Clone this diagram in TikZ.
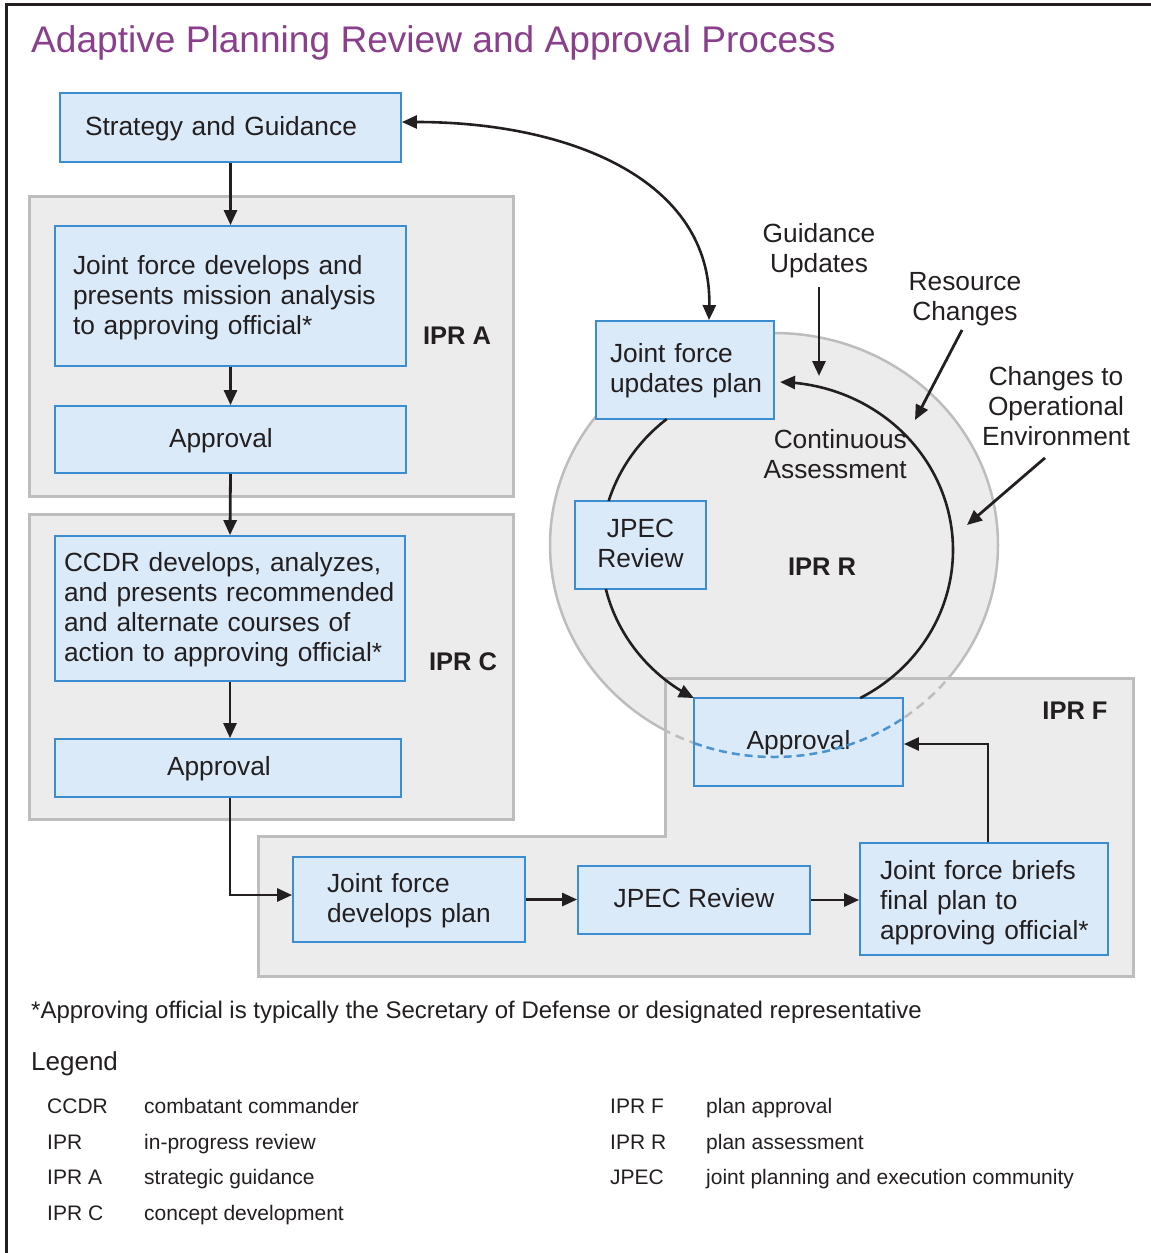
\documentclass[tikz,border=0pt]{standalone}
\usepackage{fontspec}
\setmainfont{Liberation Sans}
\usetikzlibrary{arrows.meta}
\definecolor{boxfill}{HTML}{DBEAF8}
\definecolor{boxline}{HTML}{3A8DD0}
\definecolor{grpfill}{HTML}{ECECEC}
\definecolor{grpline}{HTML}{BDBDBD}
\definecolor{ink}{HTML}{231F20}
\definecolor{titlecol}{HTML}{8A3F8C}
\definecolor{dashblue}{HTML}{4A94CF}
\newcommand\mytop{\rule{0pt}{21pt}}
\newcommand\mybot{\rule[-5.5pt]{0pt}{5.5pt}}
\begin{document}
\begin{tikzpicture}[x=1pt,y=-1pt,
  box/.style={draw=boxline, fill=boxfill, line width=1.8pt, inner sep=0pt, text=ink, font=\fontsize{26.3}{30}\selectfont},
  lbox/.style={box, align=left},
  cbox/.style={box, align=center},
  grp/.style={draw=grpline, fill=grpfill, line width=3pt},
  arr/.style={draw=ink, line width=2.8pt, -{Triangle[length=15pt,width=13pt]}},
  lbl/.style={text=ink, font=\fontsize{26.3}{30}\selectfont, inner sep=0pt},
  iprlbl/.style={text=ink, font=\fontsize{25.5}{30}\selectfont\bfseries, inner sep=0pt},
  leg/.style={text=ink, font=\fontsize{21}{25}\selectfont, inner sep=0pt, anchor=base west},
]
\useasboundingbox (0,0) rectangle (1151,1253);
% frame
\draw[ink, line width=3pt] (6,1253) -- (6,4.5) -- (1151,4.5);
% title
\node[anchor=base west, inner sep=0pt, text=titlecol, font=\fontsize{37.1}{44}\selectfont] (title) at (31,52) {Adaptive Planning Review and Approval Process};

% big assessment circle
\draw[grp, line width=2.5pt] (774,545) ellipse [x radius=224, y radius=212];
% groups
\draw[grp] (29,196) rectangle (513,496);
\draw[grp] (29,514) rectangle (513,819);
\draw[grp] (258,836) -- (665,836) -- (665,678) -- (1133,678) -- (1133,976) -- (258,976) -- cycle;
\begin{scope}
  \clip (258,836) -- (665,836) -- (665,678) -- (1133,678) -- (1133,976) -- (258,976) -- cycle;
  \draw[grpline, line width=2.5pt, dash pattern=on 9pt off 6pt] (774,545) ellipse [x radius=224, y radius=212];
\end{scope}

% boxes
\node[lbox, minimum width=341pt, minimum height=69pt, inner xsep=25pt, text width=291pt] (sg) at (230.5,127.5) {\mytop\mbox{Strategy and Guidance}\mybot};
\node[lbox, minimum width=351pt, minimum height=140pt, inner xsep=18pt, text width=315pt] (jfma) at (230.5,296) {\rule{0pt}{23pt}\mbox{Joint force develops and}\\\mbox{presents mission analysis}\\\mbox{to approving official*}\mybot};
\node[lbox, minimum width=351pt, minimum height=67pt, inner xsep=114pt, text width=123pt] (apa) at (230.5,439.5) {\mytop\mbox{Approval}\mybot};
\node[lbox, minimum width=350pt, minimum height=145pt, inner xsep=9pt, text width=332pt] (cc) at (230,608.5) {\mytop\mbox{CCDR develops, analyzes,}\\\mbox{and presents recommended}\\\mbox{and alternate courses of}\\\mbox{action to approving official*}\mybot};
\node[lbox, minimum width=346pt, minimum height=58pt, inner xsep=112pt, text width=122pt] (apc) at (228,768) {\mytop\mbox{Approval}\mybot};
\node[lbox, minimum width=232pt, minimum height=85pt, inner xsep=34pt, text width=164pt] (jfdp) at (409,899.5) {\mytop\mbox{Joint force}\\\mbox{develops plan}\mybot};
\node[cbox, minimum width=232pt, minimum height=68pt] (jpec) at (694,900) {\mytop JPEC Review\mybot};
\node[lbox, minimum width=248pt, minimum height=112pt, inner xsep=20pt, text width=208pt] (brief) at (984,899) {\rule{0pt}{26pt}\mbox{Joint force briefs}\\\mbox{final plan to}\\\mbox{approving official*}\mybot};
\node[cbox, minimum width=209pt, minimum height=88pt] (apf) at (798.5,742) {\mytop Approval\mybot};
\node[lbox, minimum width=178pt, minimum height=98pt, inner xsep=14pt, text width=150pt] (jfup) at (685,370) {\mytop\mbox{Joint force}\\\mbox{updates plan}\mybot};
\node[cbox, minimum width=131pt, minimum height=88pt] (jpr) at (640.5,545) {\mytop JPEC\\Review\mybot};

\begin{scope}
  \clip (apf.south west) rectangle (apf.north east);
  \draw[dashblue, line width=2.5pt, dash pattern=on 8pt off 5pt] (774,545) ellipse [x radius=224, y radius=212];
\end{scope}

% group labels
\node[iprlbl] (ipra) at (457,336) {IPR A};
\node[iprlbl] (iprc) at (463,662) {IPR C};
\node[iprlbl] (iprf) at (1075,711) {IPR F};
\node[iprlbl] (iprr) at (822,567) {IPR R};

% flow arrows
\draw[arr] (sg.south) -- (jfma.north);
\draw[arr] (jfma.south) -- (apa.north);
\draw[arr] (apa.south) -- (cc.north);
\draw[arr] (cc.south) -- (cc.south |- apc.north);
\coordinate (jfin) at (0,895);
\draw[arr] (apc.south -| cc.south) |- (jfdp.west |- jfin);
\draw[arr] (jfdp.east) -- (jfdp.east -| jpec.west);
\draw[arr] (jpec.east) -- (jpec.east -| brief.west);
\coordinate (brx) at (988,744);
\draw[arr] (brief.north -| brx) |- (apf.east |- brx);
\draw[draw=ink, line width=2.6pt, {Triangle[length=15pt,width=13pt]}-{Triangle[length=15pt,width=13pt]}]
  ([yshift=5.5pt]sg.east) .. controls (570,122) and (712,180) .. ([xshift=24pt]jfup.north);

% continuous assessment loop
\draw[draw=ink, line width=2.6pt, {Triangle[length=15pt,width=13pt]}-] plot[smooth, samples=60, domain=-89:61.8] ({777+176*cos(\x)},{550+168*sin(\x)});
\draw[draw=ink, line width=2.6pt] plot[smooth, samples=20, domain=-163:-128.8] ({777+176*cos(\x)},{550+168*sin(\x)});
\draw[draw=ink, line width=2.6pt, {Triangle[length=15pt,width=13pt]}-] plot[smooth, samples=30, domain=118.2:166.6] ({777+176*cos(\x)},{550+168*sin(\x)});

% influence labels
\node[lbl, align=right, anchor=east] (ca) at (907,454) {Continuous\\Assessment};
\node[lbl, align=center] (gu) at (819,250.5) {Guidance\\Updates};
\node[lbl, align=center] (rc) at (965,299) {Resource\\Changes};
\node[lbl, align=center] (ce) at (1056,406) {Changes to\\Operational\\Environment};
\coordinate (guend) at (819,376);
\coordinate (rcend) at (915,420);
\coordinate (ceend) at (967,525);
\draw[arr] ([yshift=-9pt]gu.south) -- (guend);
\draw[arr] ([shift={(-3pt,-4pt)}]rc.south) -- (rcend);
\draw[arr] ([shift={(-11pt,-12pt)}]ce.south) -- (ceend);

% footnote and legend
\node[anchor=base west, inner sep=0pt, text=ink, font=\fontsize{24}{28}\selectfont] (foot) at (31,1018.5) {*Approving official is typically the Secretary of Defense or designated representative};
\node[anchor=base west, inner sep=0pt, text=ink, font=\fontsize{26}{30}\selectfont] (legend) at (31,1070) {Legend};
\node[leg] (l1a) at (47,1113.5) {CCDR};
\node[leg] (l1b) at (144,1113.5) {combatant commander};
\node[leg] (l2a) at (47,1149.5) {IPR};
\node[leg] (l2b) at (144,1149.5) {in-progress review};
\node[leg] (l3a) at (47,1184.5) {IPR A};
\node[leg] (l3b) at (144,1184.5) {strategic guidance};
\node[leg] (l4a) at (47,1220.5) {IPR C};
\node[leg] (l4b) at (144,1220.5) {concept development};
\node[leg] (r1a) at (610,1113.5) {IPR F};
\node[leg] (r1b) at (706,1113.5) {plan approval};
\node[leg] (r2a) at (610,1149.5) {IPR R};
\node[leg] (r2b) at (706,1149.5) {plan assessment};
\node[leg] (r3a) at (610,1184.5) {JPEC};
\node[leg] (r3b) at (706,1184.5) {joint planning and execution community};
\end{tikzpicture}
\end{document}
